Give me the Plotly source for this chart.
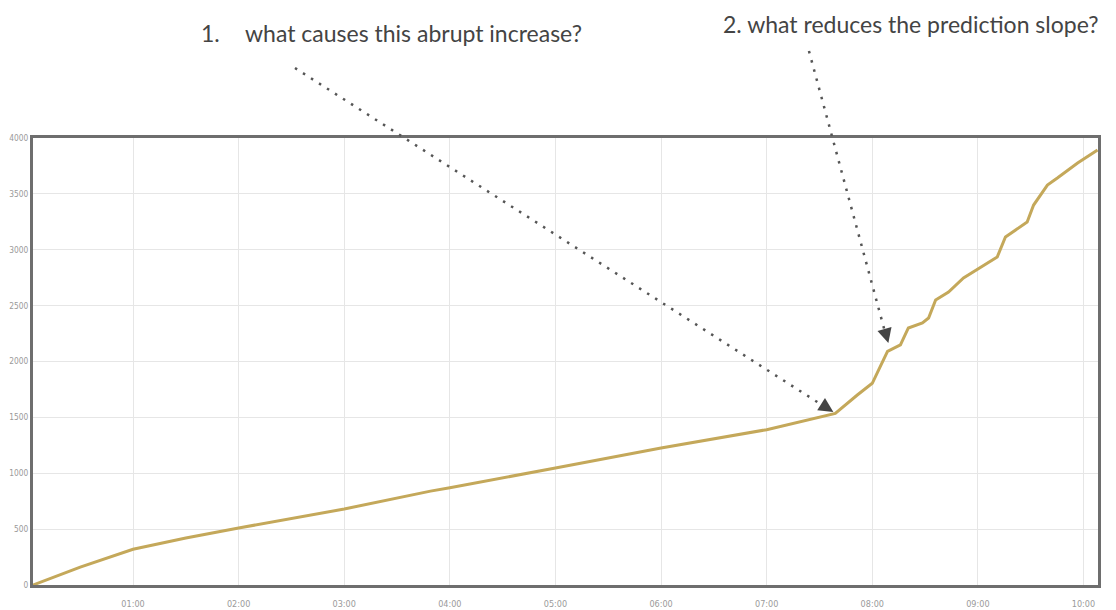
import plotly.graph_objects as go

# ---- data ----
times = [
    "2020-01-01 00:03:10", "2020-01-01 00:30:00", "2020-01-01 01:00:00", "2020-01-01 01:30:00",
    "2020-01-01 02:00:00", "2020-01-01 03:00:00", "2020-01-01 03:49:00", "2020-01-01 04:00:00",
    "2020-01-01 05:00:00", "2020-01-01 06:00:00", "2020-01-01 07:00:00", "2020-01-01 07:39:00",
    "2020-01-01 07:51:30", "2020-01-01 08:00:00", "2020-01-01 08:03:30", "2020-01-01 08:08:40",
    "2020-01-01 08:16:00", "2020-01-01 08:20:30", "2020-01-01 08:28:30", "2020-01-01 08:32:00",
    "2020-01-01 08:36:00", "2020-01-01 08:43:20", "2020-01-01 08:51:50", "2020-01-01 09:00:20",
    "2020-01-01 09:11:00", "2020-01-01 09:15:40", "2020-01-01 09:28:00", "2020-01-01 09:31:40",
    "2020-01-01 09:39:30", "2020-01-01 09:45:10", "2020-01-01 09:56:40", "2020-01-01 10:08:00",
]
values = [
    0, 160, 320, 420,
    510, 680, 840, 870,
    1047, 1226, 1390, 1535,
    1700, 1805, 1920, 2090,
    2148, 2300, 2345, 2389,
    2550, 2622, 2747, 2830,
    2935, 3114, 3248, 3400,
    3579, 3642, 3776, 3893,
]
x_range = ["2020-01-01 00:03:10", "2020-01-01 10:08:15"]
y_range = [0, 4000]
y_ticks = [0, 500, 1000, 1500, 2000, 2500, 3000, 3500, 4000]

question_1 = "what causes this abrupt increase?"
question_2 = "2. what reduces the prediction slope?"
tip_1 = ("2020-01-01 07:37:53", 1548)
tip_2 = ("2020-01-01 08:09:08", 2166)

fig = go.Figure()
fig.add_trace(go.Scatter(
    x=times, y=values, mode="lines",
    line=dict(color="#C4A85A", width=3),
    hoverinfo="skip", showlegend=False,
))

x_tick_font = dict(family="DejaVu Sans Condensed, DejaVu Sans", size=9, color="#9a9a9a")
y_tick_font = dict(family="DejaVu Sans Condensed, DejaVu Sans", size=8.3, color="#9a9a9a")
fig.update_xaxes(
    type="date", range=x_range, dtick=3600000, tick0="2020-01-01 00:00:00",
    tickformat="%H:%M", showgrid=True, gridcolor="#e6e6e6", gridwidth=1,
    showline=True, linecolor="#6e6e6e", linewidth=3, mirror=True,
    ticks="outside", ticklen=8, tickcolor="rgba(0,0,0,0)",
    tickfont=x_tick_font, zeroline=False, automargin=False,
)
fig.update_yaxes(
    range=y_range, tickvals=y_ticks, showgrid=True, gridcolor="#e6e6e6", gridwidth=1,
    showline=True, linecolor="#6e6e6e", linewidth=3, mirror=True,
    ticks="", tickfont=y_tick_font, zeroline=False, automargin=False,
)

text_font = dict(family="Lato, Raleway, Open Sans", size=23, color="#444444")
annotations = [
    dict(text="1.", xref="paper", yref="paper", x=0.1558, y=1.235, xanchor="left",
         yanchor="middle", showarrow=False, font=text_font),
    dict(text=question_1, xref="paper", yref="paper", x=0.1972, y=1.235, xanchor="left",
         yanchor="middle", showarrow=False, font=text_font),
    dict(text=question_2, xref="paper", yref="paper", x=1.0025, y=1.255, xanchor="right",
         yanchor="middle", showarrow=False, font=text_font),
    # arrow heads
    dict(text="", x=tip_1[0], y=tip_1[1], xref="x", yref="y", showarrow=True,
         arrowhead=2, arrowsize=1.45, arrowwidth=2, arrowcolor="#444444",
         ax=-11.8, ay=-7.5, standoff=0),
    dict(text="", x=tip_2[0], y=tip_2[1], xref="x", yref="y", showarrow=True,
         arrowhead=2, arrowsize=1.45, arrowwidth=2, arrowcolor="#444444",
         ax=-3.7, ay=-13.5, standoff=0),
]

shapes = [
    dict(type="line", xref="paper", yref="paper", x0=0.246, y0=1.1566, x1=0.7408, y1=0.4027,
         line=dict(color="#555555", width=2.5, dash="2.5px,7px")),
    dict(type="line", xref="paper", yref="paper", x0=0.7286, y0=1.1946, x1=0.7996, y1=0.5694,
         line=dict(color="#555555", width=2.5, dash="2.5px,7px")),
]

# page body has an 8px margin, so the figure is sized/margined to place the
# plot area at the same window position as the reference
fig.update_layout(
    width=1108, height=602,
    margin=dict(l=25, r=18, t=130, b=25),
    paper_bgcolor="white", plot_bgcolor="white",
    annotations=annotations, shapes=shapes,
    showlegend=False,
)

fig.write_html("out.html")
